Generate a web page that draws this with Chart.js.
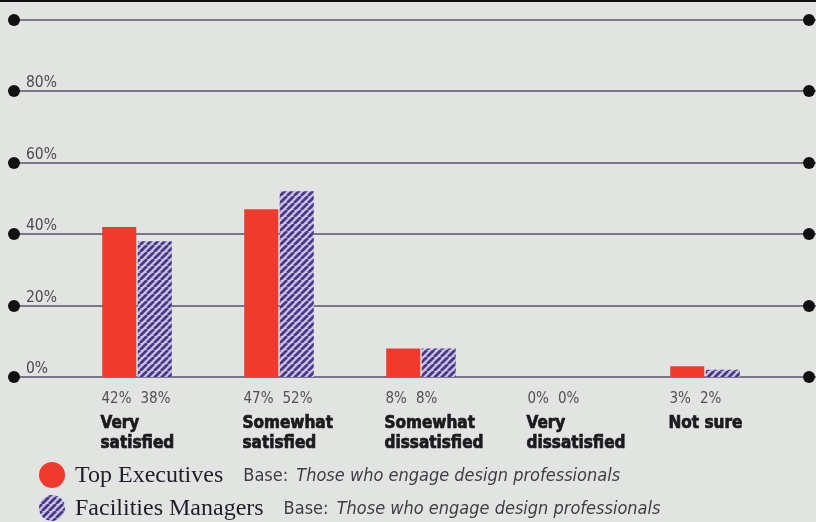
<!DOCTYPE html>
<html>
<head>
<meta charset="utf-8">
<script src="https://cdn.jsdelivr.net/npm/chart.js@4.4.1/dist/chart.umd.min.js"></script>
<style>
  html, body { margin: 0; padding: 0; background: #e2e4e1; }
  #wrap { width: 816px; height: 522px; position: relative; }
</style>
</head>
<body>
<div id="wrap"><canvas id="myChart" width="816" height="522"></canvas></div>
<script>
// Data ------------------------------------------------>
const categories = [['Very', 'satisfied'], ['Somewhat', 'satisfied'], ['Somewhat', 'dissatisfied'], ['Very', 'dissatisfied'], ['Not sure']];
const topExecutives = [42, 47, 8, 0, 3];
const facilitiesManagers = [38, 52, 8, 0, 2];
const yTicks = [0, 20, 40, 60, 80, 100];
const seriesNames = ['Top Executives', 'Facilities Managers'];
const baseNote = 'Those who engage design professionals';

const RED = '#ee3b2e';
const NARROW = '"Liberation Sans Narrow", "DejaVu Sans Condensed", sans-serif';

const ctx = document.getElementById('myChart');

// diagonal hatch for the second series
function hatch(size) {
  const c = document.createElement('canvas');
  c.width = c.height = size;
  const g = c.getContext('2d');
  g.fillStyle = '#cdc5e4';
  g.fillRect(0, 0, size, size);
  g.strokeStyle = '#47388a';
  g.lineWidth = 2.8;
  g.beginPath();
  for (let k = -1; k <= 1; k++) {
    g.moveTo(k * size, size);
    g.lineTo(k * size + size, 0);
  }
  g.stroke();
  return ctx.getContext('2d').createPattern(c, 'repeat');
}
const stripes = hatch(7);

// Grid lines with dots, full width ----------------------------->
const gridPlugin = {
  id: 'gridDots',
  beforeDatasetsDraw(chart) {
    const c = chart.ctx, y = chart.scales.y;
    c.save();
    yTicks.forEach(v => {
      const py = Math.round(y.getPixelForValue(v));
      c.strokeStyle = '#7a7588';
      c.lineWidth = 2;
      c.beginPath();
      c.moveTo(10, py);
      c.lineTo(816, py);
      c.stroke();
      c.fillStyle = '#111';
      [14, 809].forEach(px => {
        c.beginPath();
        c.arc(px, py, 6, 0, Math.PI * 2);
        c.fill();
      });
      if (v < 100) {
        c.fillStyle = '#4a4a50';
        c.font = '15.5px ' + NARROW;
        c.textAlign = 'left';
        c.textBaseline = 'alphabetic';
        c.fillText(v + '%', 26, py - 4);
      }
    });
    // black edge at the top
    c.fillStyle = '#111';
    c.fillRect(0, 0, 816, 2);
    c.restore();
  }
};

// Value + category labels and legend ------------------------->
const labelPlugin = {
  id: 'labels',
  afterDatasetsDraw(chart) {
    const c = chart.ctx, x = chart.scales.x;
    const half = x.width / categories.length / 4;
    c.save();
    c.textAlign = 'left';
    c.textBaseline = 'alphabetic';
    categories.forEach((cat, i) => {
      const left = x.getPixelForValue(i) - half - 1;
      c.fillStyle = '#505055';
      c.font = '15px ' + NARROW;
      const a = topExecutives[i] + '%', b = facilitiesManagers[i] + '%';
      c.fillText(a, left + 1, 403);
      c.fillText(b, left + 1 + c.measureText(a).width + 9, 403);
      // heavy condensed look: fill + thin stroke
      c.fillStyle = '#1b1b1f';
      c.strokeStyle = '#1b1b1f';
      c.lineWidth = 0.7;
      c.font = 'bold 17px ' + NARROW;
      cat.forEach((line, j) => {
        c.fillText(line, left, 428 + j * 20);
        c.strokeText(line, left, 428 + j * 20);
      });
    });

    // legend
    const rows = [[RED, 475], [stripes, 508]];
    rows.forEach((r, i) => {
      c.fillStyle = r[0];
      c.beginPath();
      c.arc(52, r[1], 13, 0, Math.PI * 2);
      c.fill();
      c.fillStyle = '#1f1d2a';
      c.font = '24px "Liberation Serif", "DejaVu Serif", serif';
      c.fillText(seriesNames[i], 75, r[1] + 7);
      const w = c.measureText(seriesNames[i]).width;
      c.fillStyle = '#3d3d45';
      c.font = '18px ' + NARROW;
      const bx = 75 + w + 20;
      c.fillText('Base:', bx, r[1] + 6);
      const bw = c.measureText('Base: ').width;
      c.font = 'italic 18px ' + NARROW;
      c.fillText(baseNote, bx + bw + 3, r[1] + 6);
    });
    c.restore();
  }
};

new Chart(ctx, {
  type: 'bar',
  data: {
    labels: categories,
    datasets: [{
      label: seriesNames[0],
      data: topExecutives,
      backgroundColor: RED,
      borderWidth: 0,
      barPercentage: 0.96,
      categoryPercentage: 0.5,
    }, {
      label: seriesNames[1],
      data: facilitiesManagers,
      backgroundColor: stripes,
      borderWidth: 0,
      barPercentage: 0.96,
      categoryPercentage: 0.5,
    }]
  },
  plugins: [gridPlugin, labelPlugin],
  options: {
    responsive: false,
    animation: false,
    layout: {
      padding: { left: 66, right: 40, top: 20, bottom: 145 }
    },
    plugins: {
      legend: { display: false },
      tooltip: { enabled: false }
    },
    scales: {
      y: {
        min: 0,
        max: 100,
        display: false,
        ticks: { stepSize: 20 }
      },
      x: {
        display: false,
        offset: true
      }
    }
  }
});
</script>
</body>
</html>
